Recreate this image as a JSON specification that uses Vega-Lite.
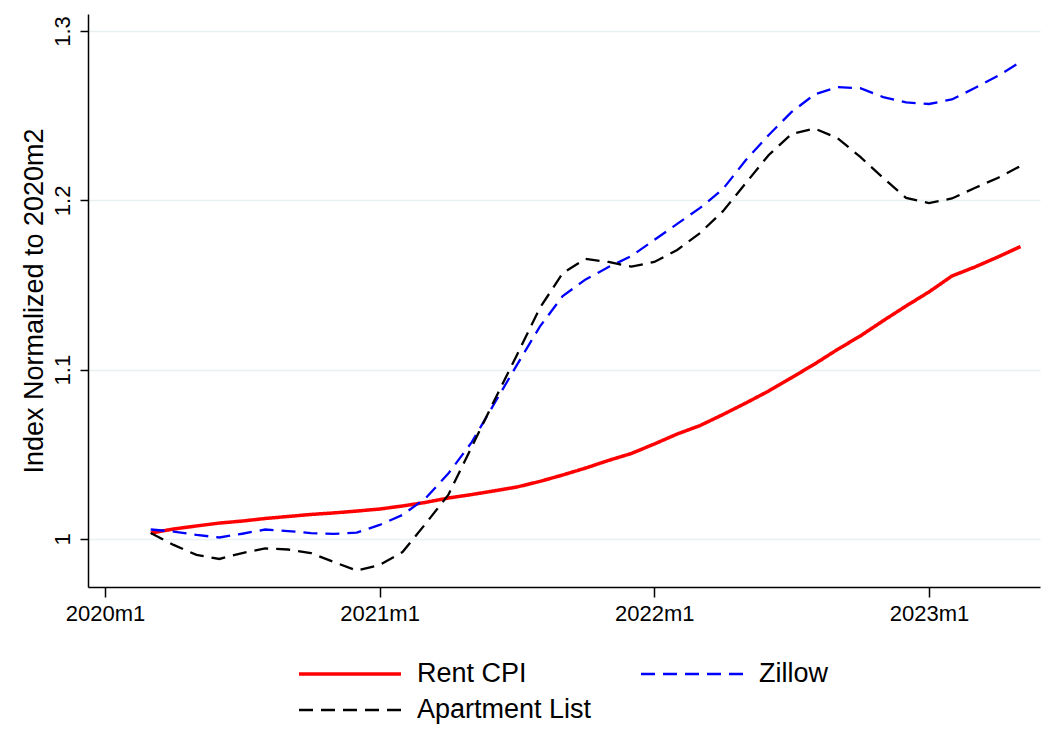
{
  "$schema": "https://vega.github.io/schema/vega-lite/v6.json",
  "width": 952,
  "height": 573,
  "autosize": {"type": "none"},
  "padding": {"left": 88, "top": 14, "right": 16, "bottom": 160},
  "background": "white",
  "config": {"view": {"stroke": null}, "font": "Liberation Sans"},
  "data": {"values": [
    {"t":2,"series":"Rent CPI","v":1.0035},{"t":3,"series":"Rent CPI","v":1.0059},{"t":4,"series":"Rent CPI","v":1.0077},{"t":5,"series":"Rent CPI","v":1.0094},{"t":6,"series":"Rent CPI","v":1.0106},{"t":7,"series":"Rent CPI","v":1.0121},{"t":8,"series":"Rent CPI","v":1.0133},{"t":9,"series":"Rent CPI","v":1.0145},{"t":10,"series":"Rent CPI","v":1.0154},{"t":11,"series":"Rent CPI","v":1.0165},{"t":12,"series":"Rent CPI","v":1.0177},{"t":13,"series":"Rent CPI","v":1.0195},{"t":14,"series":"Rent CPI","v":1.0216},{"t":15,"series":"Rent CPI","v":1.0242},{"t":16,"series":"Rent CPI","v":1.0262},{"t":17,"series":"Rent CPI","v":1.0284},{"t":18,"series":"Rent CPI","v":1.0307},{"t":19,"series":"Rent CPI","v":1.0340},{"t":20,"series":"Rent CPI","v":1.0378},{"t":21,"series":"Rent CPI","v":1.0419},{"t":22,"series":"Rent CPI","v":1.0464},{"t":23,"series":"Rent CPI","v":1.0505},{"t":24,"series":"Rent CPI","v":1.0561},{"t":25,"series":"Rent CPI","v":1.0620},{"t":26,"series":"Rent CPI","v":1.0670},{"t":27,"series":"Rent CPI","v":1.0735},{"t":28,"series":"Rent CPI","v":1.0803},{"t":29,"series":"Rent CPI","v":1.0874},{"t":30,"series":"Rent CPI","v":1.0953},{"t":31,"series":"Rent CPI","v":1.1033},{"t":32,"series":"Rent CPI","v":1.1119},{"t":33,"series":"Rent CPI","v":1.1199},{"t":34,"series":"Rent CPI","v":1.1289},{"t":35,"series":"Rent CPI","v":1.1376},{"t":36,"series":"Rent CPI","v":1.1459},{"t":37,"series":"Rent CPI","v":1.1553},{"t":38,"series":"Rent CPI","v":1.1606},{"t":39,"series":"Rent CPI","v":1.1665},{"t":40,"series":"Rent CPI","v":1.1727},
    {"t":2,"series":"Zillow","v":1.0056},{"t":3,"series":"Zillow","v":1.0044},{"t":4,"series":"Zillow","v":1.0024},{"t":5,"series":"Zillow","v":1.0009},{"t":6,"series":"Zillow","v":1.0031},{"t":7,"series":"Zillow","v":1.0056},{"t":8,"series":"Zillow","v":1.0047},{"t":9,"series":"Zillow","v":1.0035},{"t":10,"series":"Zillow","v":1.0030},{"t":11,"series":"Zillow","v":1.0038},{"t":12,"series":"Zillow","v":1.0083},{"t":13,"series":"Zillow","v":1.0142},{"t":14,"series":"Zillow","v":1.0240},{"t":15,"series":"Zillow","v":1.0386},{"t":16,"series":"Zillow","v":1.0567},{"t":17,"series":"Zillow","v":1.0797},{"t":18,"series":"Zillow","v":1.1028},{"t":19,"series":"Zillow","v":1.1254},{"t":20,"series":"Zillow","v":1.1435},{"t":21,"series":"Zillow","v":1.1533},{"t":22,"series":"Zillow","v":1.1606},{"t":23,"series":"Zillow","v":1.1671},{"t":24,"series":"Zillow","v":1.1766},{"t":25,"series":"Zillow","v":1.1861},{"t":26,"series":"Zillow","v":1.1955},{"t":27,"series":"Zillow","v":1.2067},{"t":28,"series":"Zillow","v":1.2238},{"t":29,"series":"Zillow","v":1.2386},{"t":30,"series":"Zillow","v":1.2522},{"t":31,"series":"Zillow","v":1.2625},{"t":32,"series":"Zillow","v":1.2669},{"t":33,"series":"Zillow","v":1.2662},{"t":34,"series":"Zillow","v":1.2610},{"t":35,"series":"Zillow","v":1.2578},{"t":36,"series":"Zillow","v":1.2569},{"t":37,"series":"Zillow","v":1.2596},{"t":38,"series":"Zillow","v":1.2663},{"t":39,"series":"Zillow","v":1.2734},{"t":40,"series":"Zillow","v":1.2817},
    {"t":2,"series":"Apartment List","v":1.0035},{"t":3,"series":"Apartment List","v":0.9965},{"t":4,"series":"Apartment List","v":0.9906},{"t":5,"series":"Apartment List","v":0.9882},{"t":6,"series":"Apartment List","v":0.9917},{"t":7,"series":"Apartment List","v":0.9944},{"t":8,"series":"Apartment List","v":0.9938},{"t":9,"series":"Apartment List","v":0.9917},{"t":10,"series":"Apartment List","v":0.9864},{"t":11,"series":"Apartment List","v":0.9814},{"t":12,"series":"Apartment List","v":0.9846},{"t":13,"series":"Apartment List","v":0.9923},{"t":14,"series":"Apartment List","v":1.0089},{"t":15,"series":"Apartment List","v":1.0260},{"t":16,"series":"Apartment List","v":1.0537},{"t":17,"series":"Apartment List","v":1.0815},{"t":18,"series":"Apartment List","v":1.1087},{"t":19,"series":"Apartment List","v":1.1364},{"t":20,"series":"Apartment List","v":1.1571},{"t":21,"series":"Apartment List","v":1.1654},{"t":22,"series":"Apartment List","v":1.1636},{"t":23,"series":"Apartment List","v":1.1609},{"t":24,"series":"Apartment List","v":1.1636},{"t":25,"series":"Apartment List","v":1.1707},{"t":26,"series":"Apartment List","v":1.1807},{"t":27,"series":"Apartment List","v":1.1936},{"t":28,"series":"Apartment List","v":1.2102},{"t":29,"series":"Apartment List","v":1.2268},{"t":30,"series":"Apartment List","v":1.2392},{"t":31,"series":"Apartment List","v":1.2424},{"t":32,"series":"Apartment List","v":1.2368},{"t":33,"series":"Apartment List","v":1.2256},{"t":34,"series":"Apartment List","v":1.2132},{"t":35,"series":"Apartment List","v":1.2014},{"t":36,"series":"Apartment List","v":1.1984},{"t":37,"series":"Apartment List","v":1.2011},{"t":38,"series":"Apartment List","v":1.2073},{"t":39,"series":"Apartment List","v":1.2132},{"t":40,"series":"Apartment List","v":1.2203}
  ]},
  "mark": {"type": "line", "interpolate": "linear", "clip": true},
  "encoding": {
    "x": {
      "field": "t", "type": "quantitative",
      "scale": {"domain": [-0.74, 40.85], "nice": false, "zero": false},
      "axis": {
        "values": [0, 12, 24, 36],
        "labelExpr": "(2020 + datum.value/12) + 'm1'",
        "title": null, "grid": false,
        "domainColor": "black", "domainWidth": 1.5,
        "tickColor": "black", "tickWidth": 1.5, "tickSize": 10,
        "labelFontSize": 22, "labelColor": "black", "labelPadding": 6,
        "labelFont": "Liberation Sans"
      }
    },
    "y": {
      "field": "v", "type": "quantitative",
      "scale": {"domain": [0.97165, 1.31004], "nice": false, "zero": false},
      "axis": {
        "values": [1, 1.1, 1.2, 1.3],
        "format": "~g",
        "title": "Index Normalized to 2020m2",
        "titleFontSize": 27, "titleFontWeight": "normal", "titleColor": "black",
        "titleFont": "Liberation Sans", "titlePadding": 3,
        "labelAngle": 270, "labelFontSize": 22, "labelColor": "black",
        "labelFont": "Liberation Sans", "labelPadding": 6,
        "grid": true, "gridColor": "#e8f0f1", "gridWidth": 1.5,
        "domainColor": "black", "domainWidth": 1.5,
        "tickColor": "black", "tickWidth": 1.5, "tickSize": 8
      }
    },
    "color": {
      "field": "series", "type": "nominal",
      "scale": {"domain": ["Rent CPI", "Zillow", "Apartment List"], "range": ["#ff0000", "#0000ff", "#000000"]},
      "legend": {
        "title": null, "orient": "none", "legendX": 209, "legendY": 647,
        "columns": 2, "direction": "horizontal", "padding": 0,
        "symbolType": "stroke", "symbolSize": 10404,
        "clipHeight": 26, "labelOffset": 14, "labelLimit": 400,
        "columnPadding": 47, "rowPadding": 9,
        "labelFontSize": 27, "labelColor": "black", "labelFont": "Liberation Sans"
      }
    },
    "strokeDash": {
      "field": "series", "type": "nominal",
      "scale": {"domain": ["Rent CPI", "Zillow", "Apartment List"], "range": [[1, 0], [14, 8], [14, 8]]},
      "legend": {
        "title": null, "orient": "none", "legendX": 209, "legendY": 647,
        "columns": 2, "direction": "horizontal", "padding": 0,
        "symbolType": "stroke", "symbolSize": 10404,
        "clipHeight": 26, "labelOffset": 14, "labelLimit": 400,
        "columnPadding": 47, "rowPadding": 9,
        "labelFontSize": 27, "labelColor": "black", "labelFont": "Liberation Sans"
      }
    },
    "strokeWidth": {
      "field": "series", "type": "nominal",
      "scale": {"type": "ordinal", "domain": ["Rent CPI", "Zillow", "Apartment List"], "range": [3.5, 2.3, 2.3]},
      "legend": {
        "title": null, "orient": "none", "legendX": 209, "legendY": 647,
        "columns": 2, "direction": "horizontal", "padding": 0,
        "symbolType": "stroke", "symbolSize": 10404,
        "clipHeight": 26, "labelOffset": 14, "labelLimit": 400,
        "columnPadding": 47, "rowPadding": 9,
        "labelFontSize": 27, "labelColor": "black", "labelFont": "Liberation Sans"
      }
    }
  }
}
